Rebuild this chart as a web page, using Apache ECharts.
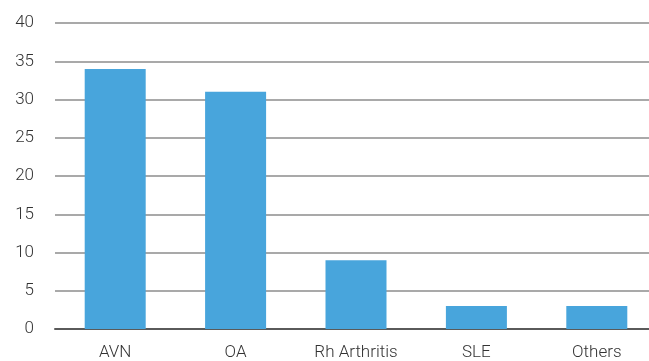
<!DOCTYPE html>
<html>
<head>
<meta charset="utf-8">
<script src="https://cdn.jsdelivr.net/npm/echarts@6/dist/echarts.min.js"></script>
<style>
html, body { margin: 0; padding: 0; background: #fff; overflow: hidden; }
#chart1 { width: 657px; height: 361px; }
</style>
</head>
<body>
<div id="chart1"></div>
<script>
var categories = ["AVN", "OA", "Rh Arthritis", "SLE", "Others"];
var values = [34, 31, 9, 3, 3];
var yTicks = [0, 5, 10, 15, 20, 25, 30, 35, 40];

// chart a bit wider than the window, the last grid column is cut off on the right
var myChart = echarts.init(document.getElementById("chart1"));
var option = {
    animation: false,
    grid: { left: 55, top: 23, right: 0, bottom: 30 },
    xAxis: {
        type: "category",
        data: categories,
        axisTick: { show: false },
        axisLine: { lineStyle: { color: "#5a5a5a", width: 2 } },
        axisLabel: {
            margin: 15,
            fontSize: 17,
            fontWeight: 300,
            color: "#333",
            fontFamily: "Roboto"
        }
    },
    yAxis: {
        type: "value",
        min: yTicks[0],
        max: yTicks[yTicks.length - 1],
        interval: 5,
        axisLine: { show: false },
        axisTick: { show: false },
        splitLine: { lineStyle: { color: "#8c8c8c", width: 1.5 } },
        axisLabel: {
            margin: 21,
            fontSize: 17,
            fontWeight: 300,
            color: "#333",
            fontFamily: "Roboto"
        }
    },
    series: [{
        type: "bar",
        data: values,
        barWidth: 61,
        itemStyle: { color: "#48a5dc" }
    }]
};
myChart.setOption(option);
</script>
</body>
</html>
